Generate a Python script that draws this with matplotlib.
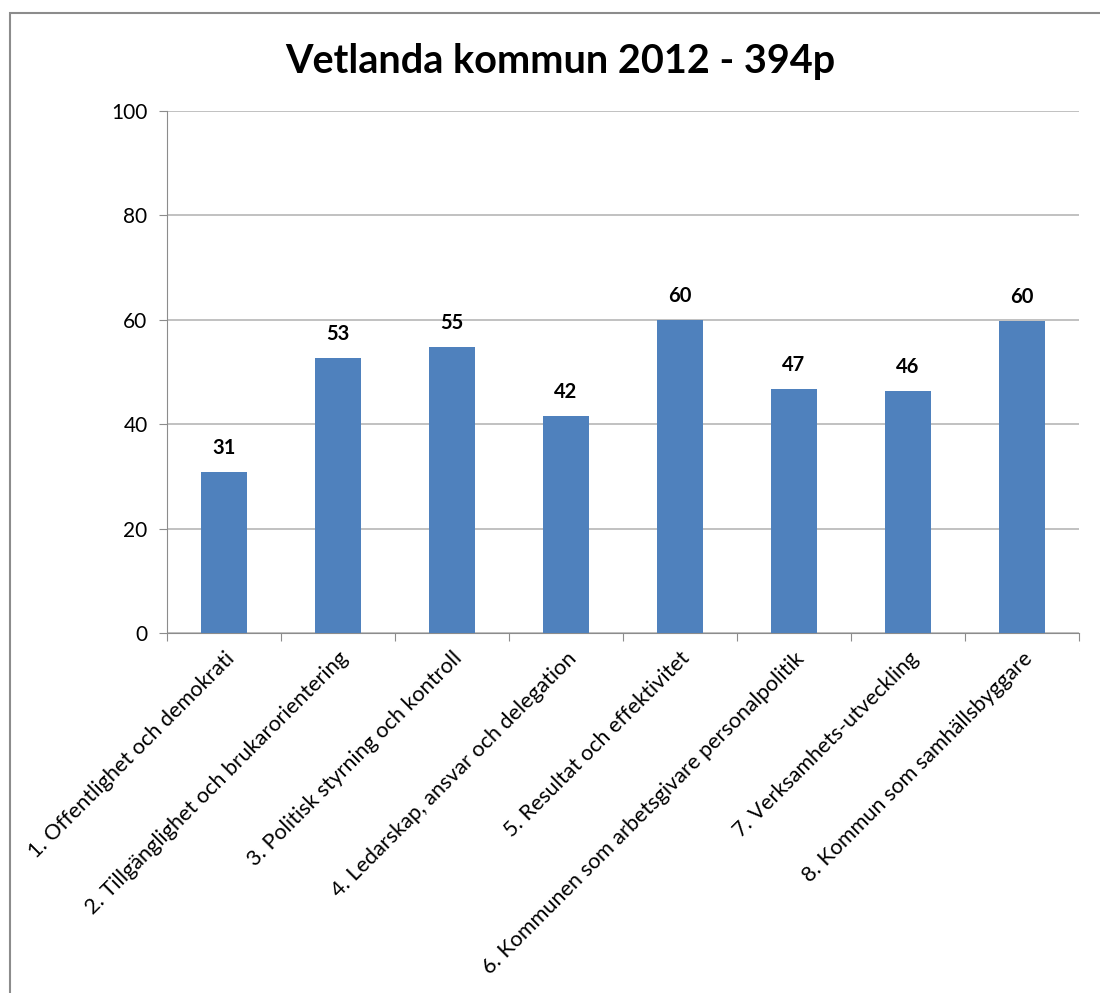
import matplotlib
matplotlib.use("Agg")
import matplotlib.pyplot as plt
from matplotlib.patches import Rectangle

categories = [
    "1. Offentlighet och demokrati",
    "2. Tillgänglighet och brukarorientering",
    "3. Politisk styrning och kontroll",
    "4. Ledarskap, ansvar och delegation",
    "5. Resultat och effektivitet",
    "6. Kommunen som arbetsgivare personalpolitik",
    "7. Verksamhets-utveckling",
    "8. Kommun som samhällsbyggare",
]
values = [30.8, 52.7, 54.8, 41.6, 60.0, 46.7, 46.3, 59.7]
value_labels = ["31", "53", "55", "42", "60", "47", "46", "60"]
yticks = [0, 20, 40, 60, 80, 100]

plt.rcParams['font.family'] = ['Lato', 'DejaVu Sans']

fig = plt.figure(figsize=(11, 9.93), dpi=100)
fig.patches.append(Rectangle((0.0095, -0.1), 1.2, 1.087, transform=fig.transFigure,
                             fill=False, edgecolor='#8c8c8c', linewidth=1.5))

ax = fig.add_axes([0.1518, 0.3625, 0.8291, 0.5257])
x = list(range(len(categories)))
bars = ax.bar(x, values, width=0.4, color='#4F81BD', zorder=3)

for xi, v, lab in zip(x, values, value_labels):
    ax.text(xi, v + 4.6, lab, ha='center', va='center', fontsize=14.5,
            fontweight='bold', color='black')

ax.set_xlim(-0.5, len(categories) - 0.5)
ax.set_ylim(0, 100)
ax.set_yticks(yticks)
ax.set_yticklabels([str(t) for t in yticks], fontsize=15)
ax.yaxis.grid(True, color='#b0b0b0', linewidth=1.1, zorder=0)

ax.set_xticks([i - 0.5 for i in range(len(categories) + 1)])
ax.set_xticklabels([])
ax.set_xticks(x, minor=True)
ax.set_xticklabels(categories, minor=True, rotation=45, ha='right',
                   rotation_mode='anchor', fontsize=15.6)
ax.tick_params(axis='x', which='minor', length=0, pad=11)
ax.tick_params(axis='x', which='major', length=6, color='#8c8c8c')
ax.tick_params(axis='y', length=6, color='#8c8c8c', pad=8)

for side in ['top', 'right']:
    ax.spines[side].set_visible(False)
for side in ['left', 'bottom']:
    ax.spines[side].set_color('#8c8c8c')

fig.text(0.509, 0.938, "Vetlanda kommun 2012 - 394p", ha='center', va='center',
         fontsize=28.5, fontweight='bold')

fig.savefig("out.png", dpi=100)
